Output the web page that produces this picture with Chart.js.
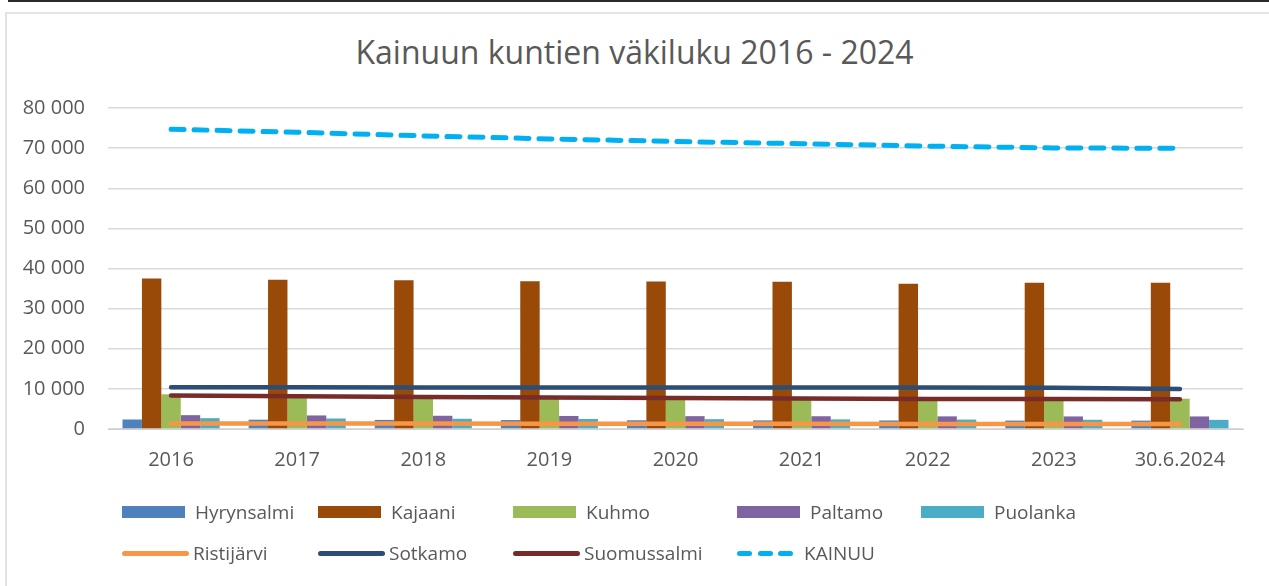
<!DOCTYPE html>
<html>
<head>
<meta charset="utf-8">
<title>Kainuun kuntien väkiluku 2016 - 2024</title>
<script src="https://cdn.jsdelivr.net/npm/chart.js@4.4.1/dist/chart.umd.min.js"></script>
<style>
    body { margin: 0; background: #fff; font-family: "Open Sans", sans-serif; }
    #wrap { position: relative; width: 1269px; height: 586px; overflow: hidden; }
    #topline { position: absolute; left: 8px; top: 0; right: 0; height: 2px; background: #2b2b2b; }
    #frame { position: absolute; left: 5px; top: 12px; right: -4px; bottom: -4px; border: 2px solid #e4e4e4; }
    #title { position: absolute; left: 0; width: 1269px; top: 36px; line-height: 32px; text-align: center; font-size: 32px; color: #595959; }
    canvas { position: absolute; left: 0; top: 0; }
    .item { position: absolute; display: flex; align-items: center; height: 26px; font-size: 19px; color: #595959; white-space: nowrap; }
    .swatch { margin-right: 10px; }
</style>
</head>
<body>
<div id="wrap">
    <div id="topline"></div>
    <div id="frame"></div>
    <div id="title">Kainuun kuntien väkiluku 2016 - 2024</div>
    <canvas id="popChart" width="1269" height="586"></canvas>
    <div id="legend"></div>
</div>

<script>
// Data
const years = ['2016', '2017', '2018', '2019', '2020', '2021', '2022', '2023', '30.6.2024'];

const hyrynsalmi  = [2370, 2320, 2270, 2230, 2180, 2150, 2130, 2100, 2090];
const kajaani     = [37500, 37200, 37100, 36800, 36750, 36700, 36200, 36450, 36450];
const kuhmo       = [8650, 8450, 8300, 8150, 8000, 7850, 7700, 7600, 7550];
const paltamo     = [3450, 3380, 3300, 3250, 3200, 3180, 3150, 3130, 3130];
const puolanka    = [2700, 2620, 2550, 2500, 2450, 2400, 2350, 2300, 2280];
const ristijarvi  = [1400, 1380, 1350, 1330, 1300, 1280, 1250, 1230, 1220];
const sotkamo     = [10400, 10380, 10370, 10350, 10340, 10330, 10320, 10300, 9950];
const suomussalmi = [8350, 8150, 8000, 7850, 7700, 7600, 7500, 7450, 7400];
const kainuu      = [74700, 73950, 73050, 72300, 71650, 71100, 70500, 70050, 69950];

const yTicks = [0, 10000, 20000, 30000, 40000, 50000, 60000, 70000, 80000];

const textColor = '#595959';

function formatThousands(v) {
    return String(v).replace(/\B(?=(\d{3})+(?!\d))/g, ' ');
}

function barSet(label, data, color) {
    return { type: 'bar', label, data, backgroundColor: color, borderWidth: 0, order: 2 };
}

function lineSet(label, data, color, dash) {
    return {
        type: 'line', label, data,
        borderColor: color, backgroundColor: color,
        borderWidth: dash ? 5 : 4.5,
        borderDash: dash || [],
        borderCapStyle: 'round',
        pointRadius: 0, tension: 0, fill: false, order: 1
    };
}

const datasets = [
    barSet('Hyrynsalmi', hyrynsalmi, '#4F81BD'),
    barSet('Kajaani', kajaani, '#994A08'),
    barSet('Kuhmo', kuhmo, '#9BBB59'),
    barSet('Paltamo', paltamo, '#8064A2'),
    barSet('Puolanka', puolanka, '#4BACC6'),
    lineSet('Ristijärvi', ristijarvi, '#F79646'),
    lineSet('Sotkamo', sotkamo, '#2C4D75'),
    lineSet('Suomussalmi', suomussalmi, '#772C2A'),
    lineSet('KAINUU', kainuu, '#00B0F0', [13, 10])
];

const ctx = document.getElementById('popChart').getContext('2d');
const chart = new Chart(ctx, {
    data: { labels: years, datasets: datasets },
    options: {
        responsive: false,
        animation: false,
        layout: { padding: { top: 108, right: 26, bottom: 117, left: 0 } },
        datasets: { bar: { categoryPercentage: 0.77, barPercentage: 1 } },
        plugins: {
            legend: { display: false },
            title: { display: false },
            tooltip: { enabled: false }
        },
        scales: {
            x: {
                grid: { display: false, drawTicks: false },
                border: { display: true, color: '#d0d0d0', width: 1 },
                ticks: { color: textColor, font: { family: 'Open Sans', size: 20 }, padding: 19, maxRotation: 0 },
                afterFit: (scale) => { scale.height = 40; }
            },
            y: {
                min: 0, max: 80000,
                afterBuildTicks: (scale) => { scale.ticks = yTicks.map(v => ({ value: v })); },
                grid: { color: '#d9d9d9', lineWidth: 1.5, drawTicks: false },
                border: { display: false },
                ticks: {
                    color: textColor,
                    font: { family: 'Open Sans', size: 20 },
                    padding: 23,
                    callback: (v) => formatThousands(v)
                },
                afterFit: (scale) => { scale.width = 108; }
            }
        }
    }
});

// ==========================================
// Legend laid out as a grid, like the original
// ==========================================
const legendCols = [122, 318, 513, 737, 921];
const legendRows = [512, 553];
const legendBox = document.getElementById('legend');

chart.data.datasets.forEach((ds, i) => {
    const item = document.createElement('div');
    item.className = 'item';
    item.style.left = legendCols[i % 5] + 'px';
    item.style.top = (legendRows[Math.floor(i / 5)] - 13) + 'px';

    const sw = document.createElement('div');
    sw.className = 'swatch';
    if (ds.type === 'bar') {
        sw.style.width = '63px';
        sw.style.height = '12px';
        sw.style.background = ds.backgroundColor;
    } else if (ds.borderDash.length) {
        sw.style.width = '56px';
        sw.style.height = '5px';
        sw.style.display = 'flex';
        sw.style.justifyContent = 'space-between';
        for (let k = 0; k < 3; k++) {
            const d = document.createElement('div');
            d.style.width = '15px';
            d.style.height = '5px';
            d.style.borderRadius = '3px';
            d.style.background = ds.borderColor;
            sw.appendChild(d);
        }
        sw.style.marginRight = '11px';
    } else {
        sw.style.width = '67px';
        sw.style.height = '5px';
        sw.style.borderRadius = '3px';
        sw.style.background = ds.borderColor;
        sw.style.marginRight = '4px';
    }
    item.appendChild(sw);

    const txt = document.createElement('span');
    txt.textContent = ds.label;
    item.appendChild(txt);
    legendBox.appendChild(item);
});
</script>
</body>
</html>
